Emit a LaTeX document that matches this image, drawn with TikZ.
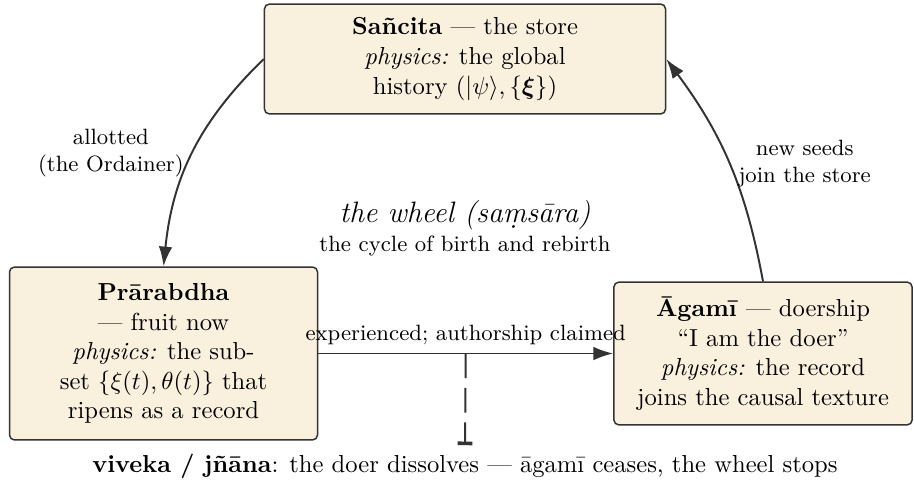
\documentclass[tikz,border=0pt]{standalone}
\usepackage{amsmath,amssymb}
\usetikzlibrary{arrows.meta}
\definecolor{karmafill}{HTML}{FAF0DE}
\definecolor{karmaline}{HTML}{333333}

\begin{document}
\begin{tikzpicture}[
		karma/.style={draw=karmaline, semithick, fill=karmafill, rounded corners=2pt, align=center},
		flow/.style={draw=karmaline, thick, -{Latex[length=8pt,width=5.5pt]}},
		lbl/.style={font=\small, align=center}]
		\useasboundingbox (0,0) rectangle (13.057,-6.9);
		\node[karma, minimum width=5.73cm, minimum height=1.57cm] (sancita) at (6.643,-0.843) {\textbf{Sañcita} --- the store\\\textit{physics:} the global\\history $(|\psi\rangle, \{\boldsymbol{\xi}\})$};
		\node[karma, minimum width=4.4cm, minimum height=2.47cm] (prarabdha) at (2.336,-5.05) {\textbf{Prārabdha}\\--- fruit now\\\textit{physics:} the sub-\\set $\{\xi(t),\theta(t)\}$ that\\ripens as a record};
		\node[karma, minimum width=4.26cm, minimum height=2.04cm] (agami) at (10.9,-5.05) {\textbf{Āgamī} --- doership\\``I am the doer''\\\textit{physics:} the record\\joins the causal texture};
		\node[align=center] (wheel) at (6.643,-3.26) {{\large\itshape the wheel (sa\d{m}sāra)}\\{\small the cycle of birth and rebirth}};
		\node (viveka) at (6.643,-6.66) {\textbf{viveka / jñāna}: the doer dissolves --- āgamī ceases, the wheel stops};
		\draw[flow] (sancita.west) to[bend right=20] node[lbl, left] {allotted\\(the Ordainer)} (prarabdha.north);
		\draw[flow] (prarabdha.east) -- coordinate (mid) node[lbl, above] {experienced; authorship claimed} (agami.west);
		\draw[flow] (agami.north) to[bend right=13] node[lbl, right] {new seeds\\join the store} (sancita.east);
		\draw[karmaline, thick, dash pattern=on 10pt off 4pt, -{Bar[width=6pt,line width=1.5pt]}] (mid) -- (viveka.north);
	\end{tikzpicture}
\end{document}
